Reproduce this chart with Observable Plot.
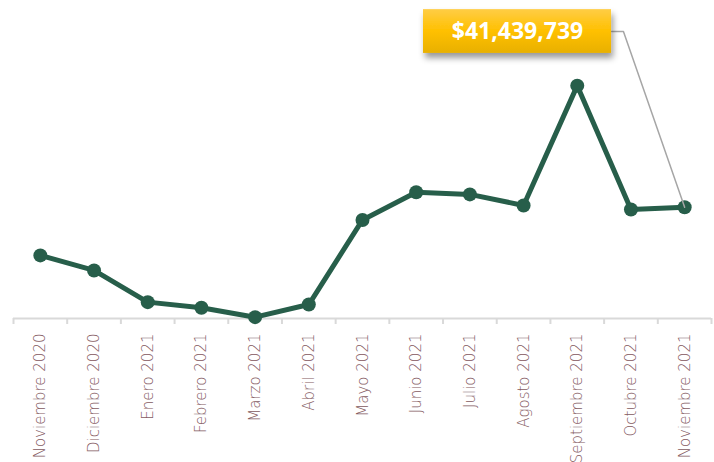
<!DOCTYPE html>
<html><head><meta charset="utf-8">
<script src="https://cdn.jsdelivr.net/npm/d3@7"></script>
<script src="https://cdn.jsdelivr.net/npm/@observablehq/plot@0.6"></script>
<style>body{margin:0;background:#fff}</style>
</head><body><div id="chart"></div>
<script>
const months = ["Noviembre 2020","Diciembre 2020","Enero 2021","Febrero 2021","Marzo 2021","Abril 2021","Mayo 2021","Junio 2021","Julio 2021","Agosto 2021","Septiembre 2021","Octubre 2021","Noviembre 2021"];
const values = [23.5, 17.9, 6.1, 4.0, 0.5, 5.2, 36.7, 47.0, 46.2, 42.1, 86.7, 40.6, 41.44]; // millones
const calloutLabel = "$41,439,739";

const data = months.map((m, i) => ({i, month: m, value: values[i]}));
const boundaries = d3.range(months.length + 1).map(i => i - 0.5);
const last = data[data.length - 1];
const green = "#275e4a";

const plot = Plot.plot({
  width: 714, height: 462,
  marginLeft: 13, marginRight: 3, marginTop: 0, marginBottom: 138,
  x: {domain: [-0.5, months.length - 0.5], axis: null},
  y: {domain: [-2.23, 118.4], axis: null},
  marks: [
    Plot.ruleY([0], {stroke: "#d9d9d9", strokeWidth: 2}),
    Plot.ruleX(boundaries, {x: d => d, y1: -2.23, y2: 0, stroke: "#d9d9d9", strokeWidth: 2}),
    Plot.text(data, {x: "i", text: "month", frameAnchor: "bottom", rotate: -90, textAnchor: "end", dy: 9, dx: 5,
      fill: "#845a5f", fontSize: 15, fontFamily: "DejaVu Sans", fontWeight: 200}),
    Plot.line(data, {x: "i", y: "value", stroke: green, strokeWidth: 5, strokeLinejoin: "round"}),
    Plot.dot(data, {x: "i", y: "value", r: 7, fill: green, stroke: null}),
    Plot.line([{x: 10.64, y: 106.9}, {x: 10.86, y: 106.9}, {x: last.i, y: last.value}],
      {x: "x", y: "y", stroke: "#a6a6a6", strokeWidth: 1.5}),
    Plot.rect([calloutLabel], {x1: 7.136, x2: 10.638, y1: 98.7, y2: 115.0, fill: "url(#gold)"}),
    Plot.text([calloutLabel], {x: 8.887, y: 106.9, text: d => d, fill: "white", fontSize: 23, fontWeight: "bold", fontFamily: "Open Sans"})
  ]
});

const svg = d3.select(plot);
const defs = svg.insert("defs", ":first-child");
const g = defs.append("linearGradient").attr("id", "gold").attr("x1", 0).attr("y1", 0).attr("x2", 0).attr("y2", 1);
g.append("stop").attr("offset", "0%").attr("stop-color", "#ffcd45");
g.append("stop").attr("offset", "50%").attr("stop-color", "#ffc000");
g.append("stop").attr("offset", "100%").attr("stop-color", "#e8b000");
const f = defs.append("filter").attr("id", "shadow").attr("x", "-20%").attr("y", "-30%").attr("width", "140%").attr("height", "180%");
f.append("feDropShadow").attr("dx", 2).attr("dy", 5).attr("stdDeviation", 3).attr("flood-color", "#000").attr("flood-opacity", 0.4);
svg.selectAll('g[aria-label="rect"] rect').attr("filter", "url(#shadow)");

document.getElementById("chart").append(plot);
</script>
</body></html>
